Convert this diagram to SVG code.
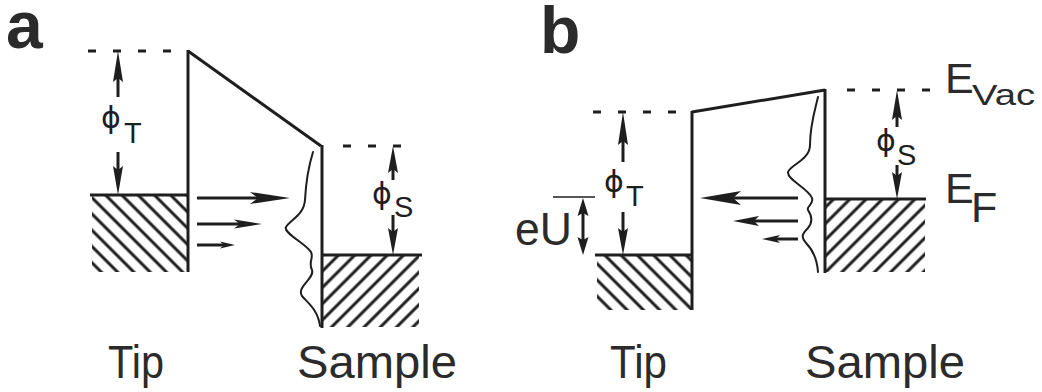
<svg xmlns="http://www.w3.org/2000/svg" width="1042" height="392" viewBox="0 0 1042 392">
  <style>
    .ln { stroke: #1e1e1e; stroke-width: 3; fill: none; stroke-linecap: butt; }
    .thin { stroke: #1e1e1e; stroke-width: 1.6; fill: none; }
    .dash { stroke: #1e1e1e; stroke-width: 3; fill: none; stroke-dasharray: 8 17; }
    .head { fill: #1e1e1e; stroke: none; }
    .wave { stroke: #1e1e1e; stroke-width: 2; fill: none; stroke-linecap: round; }
    .txt { font-family: "Liberation Sans", Arial, sans-serif; fill: #2b2b2b; }
    .big { font-size: 46px; }
    .panel { font-family: "Liberation Sans", Arial, sans-serif; font-weight: bold; font-size: 66px; fill: #2b2b2b; }
    .phi { font-family: "DejaVu Sans", "Liberation Sans", sans-serif; font-size: 30px; fill: #1e1e1e; }
    .sub { font-family: "Liberation Sans", Arial, sans-serif; font-size: 29px; fill: #1e1e1e; }
  </style>
  <defs>
    <pattern id="hatchBack" patternUnits="userSpaceOnUse" width="11.5" height="11.5" patternTransform="rotate(-45)">
      <line x1="5.75" y1="0" x2="5.75" y2="11.5" stroke="#1e1e1e" stroke-width="3"/>
    </pattern>
    <pattern id="hatchFwd" patternUnits="userSpaceOnUse" width="11.5" height="11.5" patternTransform="rotate(45)">
      <line x1="5.75" y1="0" x2="5.75" y2="11.5" stroke="#1e1e1e" stroke-width="3"/>
    </pattern>
  </defs>

  <rect width="1042" height="392" fill="#ffffff"/>

  <!-- panel letters -->
  <text class="panel" x="6" y="48">a</text>
  <text class="panel" x="540" y="53">b</text>

  <!-- ===== panel a ===== -->
  <g id="a-tip">
    <rect x="92" y="195" width="96" height="77" fill="url(#hatchBack)"/>
    <line class="dash" x1="88" y1="51" x2="180" y2="51"/>
    <line class="ln" x1="90" y1="195" x2="188" y2="195"/>
    <line class="ln" x1="188" y1="50" x2="188" y2="272"/>
  </g>
  <g id="a-barrier">
    <line class="ln" x1="188" y1="51" x2="321" y2="146"/>
  </g>
  <g id="a-sample">
    <rect x="323" y="255" width="96" height="72" fill="url(#hatchFwd)"/>
    <line class="dash" x1="343" y1="146" x2="404" y2="146"/>
    <line class="ln" x1="323" y1="255" x2="422" y2="255"/>
    <line class="ln" x1="322" y1="145" x2="322" y2="328"/>
    <path class="wave" d="M313,152 C309,165 306,180 305,200 C304,215 290,220 286,227 C283,233 305,243 311,252 C314,258 308,262 312,270 C315,278 296,287 302,296 C308,303 318,310 320,326"/>
  </g>
  <g id="a-labels">
    <text class="phi" x="101" y="128">ϕ</text>
    <text class="sub" x="124" y="143">T</text>
    <text class="phi" x="372" y="204">ϕ</text>
    <text class="sub" x="394" y="217">S</text>
    <text class="txt big" x="108" y="378" textLength="56" lengthAdjust="spacingAndGlyphs">Tip</text>
    <text class="txt big" x="297" y="378" textLength="160" lengthAdjust="spacingAndGlyphs">Sample</text>
  </g>

  <!-- ===== panel b ===== -->
  <g id="b-tip">
    <rect x="597" y="255" width="95" height="55" fill="url(#hatchBack)"/>
    <line class="dash" x1="593" y1="112" x2="680" y2="112"/>
    <line class="ln" x1="595" y1="255" x2="692" y2="255"/>
    <line class="ln" x1="692" y1="111" x2="692" y2="310"/>
    <line class="thin" x1="553" y1="197" x2="595" y2="197"/>
  </g>
  <g id="b-barrier">
    <line class="ln" x1="692" y1="112" x2="825" y2="90"/>
  </g>
  <g id="b-sample">
    <rect x="826" y="199" width="99" height="73" fill="url(#hatchFwd)"/>
    <line class="dash" x1="847" y1="90" x2="930" y2="90"/>
    <line class="ln" x1="825" y1="199" x2="926" y2="199"/>
    <line class="ln" x1="825" y1="89" x2="825" y2="273"/>
    <path class="wave" d="M818,97 C815,110 810,125 810,145 C810,160 790,165 788,172 C787,180 808,188 812,198 C814,205 806,206 808,210 C812,216 813,222 808,228 C803,233 800,237 806,243 C812,249 817,258 818,272"/>
  </g>
  <g id="b-labels">
    <text class="phi" x="604" y="192">ϕ</text>
    <text class="sub" x="626" y="206" font-size="26">T</text>
    <text class="phi" x="876" y="151">ϕ</text>
    <text class="sub" x="897" y="165">S</text>
    <text class="txt" x="515" y="245" font-size="47" textLength="57" lengthAdjust="spacingAndGlyphs">eU</text>
    <text class="txt" x="945" y="93" font-size="43">E</text>
    <text class="txt" x="972" y="105" font-size="29" textLength="63" lengthAdjust="spacingAndGlyphs">Vac</text>
    <text class="txt" x="945" y="203" font-size="43">E</text>
    <text class="txt" x="971" y="222" font-size="43">F</text>
    <text class="txt big" x="610" y="378" textLength="57" lengthAdjust="spacingAndGlyphs">Tip</text>
    <text class="txt big" x="805" y="378" textLength="160" lengthAdjust="spacingAndGlyphs">Sample</text>
  </g>

  <!-- arrows -->
  <g id="connectors">
    <!-- panel a: work function arrows -->
    <line class="ln" x1="118" y1="97" x2="118" y2="75"/>
    <polygon class="head" points="118,51 123,82 118,78 113,82"/>
    <line class="ln" x1="118" y1="152" x2="118" y2="172"/>
    <polygon class="head" points="118,195 123,166 118,170 113,166"/>
    <line class="ln" x1="393" y1="180" x2="393" y2="165"/>
    <polygon class="head" points="393,146 398,173 393,169 388,173"/>
    <line class="ln" x1="393" y1="215" x2="393" y2="233"/>
    <polygon class="head" points="393,255 398,228 393,232 388,228"/>
    <!-- panel a: tunnelling current -->
    <line class="ln" x1="197" y1="198" x2="262" y2="198"/>
    <polygon class="head" points="290,198 250,192 258,198 250,204"/>
    <line class="ln" x1="197" y1="224" x2="240" y2="224"/>
    <polygon class="head" points="262,224 234,219.5 240,224 234,228.5"/>
    <line class="ln" x1="197" y1="245" x2="225" y2="245"/>
    <polygon class="head" points="235,245 220,241.5 224,245 220,248.5"/>

    <!-- panel b: work function arrows -->
    <line class="ln" x1="623" y1="162" x2="623" y2="138"/>
    <polygon class="head" points="623,112 628,145 623,141 618,145"/>
    <line class="ln" x1="623" y1="212" x2="623" y2="235"/>
    <polygon class="head" points="623,255 628,228 623,232 618,228"/>
    <line class="ln" x1="897" y1="127" x2="897" y2="112"/>
    <polygon class="head" points="897,90 902,120 897,116 892,120"/>
    <line class="ln" x1="897" y1="165" x2="897" y2="178"/>
    <polygon class="head" points="897,199 902,172 897,176 892,172"/>
    <!-- panel b: bias eU -->
    <line class="ln" x1="583" y1="212" x2="583" y2="241"/>
    <polygon class="head" points="583,198 588.5,216 583,213 577.5,216"/>
    <polygon class="head" points="583,255 588.5,237 583,240 577.5,237"/>
    <!-- panel b: tunnelling current -->
    <line class="ln" x1="798" y1="198" x2="732" y2="198"/>
    <polygon class="head" points="700,198 741,191 733,198 741,205"/>
    <line class="ln" x1="798" y1="221" x2="752" y2="221"/>
    <polygon class="head" points="733,221 759,216 754,221 759,226"/>
    <line class="ln" x1="798" y1="239" x2="775" y2="239"/>
    <polygon class="head" points="762,239 780,235 776,239 780,243"/>
  </g>
</svg>
